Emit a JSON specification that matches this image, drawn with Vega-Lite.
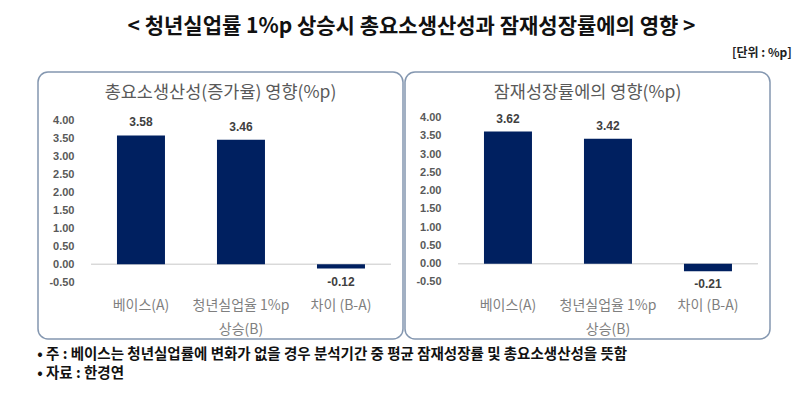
{
  "$schema": "https://vega.github.io/schema/vega-lite/v6.json",
  "padding": {"left": 37, "top": 16, "right": 5, "bottom": 0},
  "background": "white",
  "datasets": {
    "tfp": [
      {"category": "베이스(A)", "value": 3.58},
      {"category": "청년실업율 1%p 상승(B)", "value": 3.46},
      {"category": "차이 (B-A)", "value": -0.12}
    ],
    "pot": [
      {"category": "베이스(A)", "value": 3.62},
      {"category": "청년실업율 1%p 상승(B)", "value": 3.42},
      {"category": "차이 (B-A)", "value": -0.21}
    ]
  },
  "title": {
    "text": "< 청년실업률 1%p 상승시 총요소생산성과 잠재성장률에의 영향 >",
    "anchor": "middle",
    "fontSize": 21,
    "fontWeight": "bold",
    "color": "#111111",
    "offset": 10,
    "dx": -3
  },
  "vconcat": [
    {
      "title": {
        "text": ["• 주 : 베이스는 청년실업률에 변화가 없을 경우 분석기간 중 평균 잠재성장률 및 총요소생산성을 뜻함", "• 자료 : 한경연"],
        "orient": "bottom",
        "anchor": "start",
        "fontSize": 14.5,
        "fontWeight": "bold",
        "color": "#111111",
        "lineHeight": 19,
        "offset": 8
      },
      "vconcat": [
        {
          "title": {
            "text": "[단위 : %p]",
            "anchor": "end",
            "fontSize": 12,
            "fontWeight": "bold",
            "color": "#222222",
            "offset": 11,
            "dx": 21
          },
          "spacing": 0,
          "hconcat": [
            {
              "width": 365,
              "height": 267,
              "data": {"name": "tfp"},
              "transform": [{"calculate": "replace(format(datum.value, '.2f'), '−', '-')", "as": "label"}],
              "title": {"text": "총요소생산성(증가율) 영향(%p)", "offset": -29, "fontSize": 17.5, "fontWeight": "normal", "color": "#595959", "anchor": "middle"},
              "encoding": {
                "x": {
                  "field": "category", "type": "nominal",
                  "sort": ["베이스(A)", "청년실업율 1%p 상승(B)", "차이 (B-A)"],
                  "scale": {"paddingInner": 0.52, "paddingOuter": 0.585, "align": 0.675},
                  "axis": {"title": null, "offset": -41, "labelPadding": 0, "labelAngle": 0, "labelBaseline": "top", "labelLineHeight": 24, "labelFontSize": 14, "labelColor": "#7f7f7f", "domain": false, "ticks": false, "tickSize": 0,
                    "labelExpr": "datum.value == '청년실업율 1%p 상승(B)' ? ['청년실업율 1%p', '상승(B)'] : datum.label"}
                },
                "y": {
                  "field": "value", "type": "quantitative",
                  "scale": {"domain": [-2.075, 5.342], "nice": false, "zero": false},
                  "axis": {"title": null, "values": [-0.5, 0, 0.5, 1, 1.5, 2, 2.5, 3, 3.5, 4], "format": ".2f", "labelExpr": "replace(datum.label, '−', '-')", "offset": -36, "labelPadding": 0, "tickSize": 0, "ticks": false, "domain": false, "grid": false, "labelFontSize": 11, "labelFontWeight": "bold", "labelColor": "#595959", "labelFont": "Liberation Sans"}
                }
              },
              "layer": [
                {
                  "mark": {"type": "rule", "color": "#d9d9d9", "strokeWidth": 1},
                  "encoding": {
                    "x": {"datum": "베이스(A)", "type": "nominal", "bandPosition": -0.54},
                    "x2": {"datum": "차이 (B-A)", "bandPosition": 1.54},
                    "y": {"datum": 0, "type": "quantitative"}
                  }
                },
                {"mark": {"type": "bar", "color": "#002060"}},
                {
                  "transform": [{"filter": "datum.value >= 0"}],
                  "mark": {"type": "text", "baseline": "bottom", "dy": -6, "fontSize": 12, "fontWeight": "bold", "color": "#404040", "font": "Liberation Sans"},
                  "encoding": {"text": {"field": "label", "type": "nominal"}}
                },
                {
                  "transform": [{"filter": "datum.value < 0"}],
                  "mark": {"type": "text", "baseline": "top", "dy": 8, "fontSize": 12, "fontWeight": "bold", "color": "#404040", "font": "Liberation Sans"},
                  "encoding": {"text": {"field": "label", "type": "nominal"}}
                }
              ]
            },
            {
              "width": 365,
              "height": 267,
              "data": {"name": "pot"},
              "transform": [{"calculate": "replace(format(datum.value, '.2f'), '−', '-')", "as": "label"}],
              "title": {"text": "잠재성장률에의 영향(%p)", "offset": -29, "fontSize": 17.5, "fontWeight": "normal", "color": "#595959", "anchor": "middle"},
              "encoding": {
                "x": {
                  "field": "category", "type": "nominal",
                  "sort": ["베이스(A)", "청년실업율 1%p 상승(B)", "차이 (B-A)"],
                  "scale": {"paddingInner": 0.52, "paddingOuter": 0.585, "align": 0.675},
                  "axis": {"title": null, "offset": -41, "labelPadding": 0, "labelAngle": 0, "labelBaseline": "top", "labelLineHeight": 24, "labelFontSize": 14, "labelColor": "#7f7f7f", "domain": false, "ticks": false, "tickSize": 0,
                    "labelExpr": "datum.value == '청년실업율 1%p 상승(B)' ? ['청년실업율 1%p', '상승(B)'] : datum.label"}
                },
                "y": {
                  "field": "value", "type": "quantitative",
                  "scale": {"domain": [-2.063, 5.252], "nice": false, "zero": false},
                  "axis": {"title": null, "values": [-0.5, 0, 0.5, 1, 1.5, 2, 2.5, 3, 3.5, 4], "format": ".2f", "labelExpr": "replace(datum.label, '−', '-')", "offset": -36, "labelPadding": 0, "tickSize": 0, "ticks": false, "domain": false, "grid": false, "labelFontSize": 11, "labelFontWeight": "bold", "labelColor": "#595959", "labelFont": "Liberation Sans"}
                }
              },
              "layer": [
                {
                  "mark": {"type": "rule", "color": "#d9d9d9", "strokeWidth": 1},
                  "encoding": {
                    "x": {"datum": "베이스(A)", "type": "nominal", "bandPosition": -0.54},
                    "x2": {"datum": "차이 (B-A)", "bandPosition": 1.54},
                    "y": {"datum": 0, "type": "quantitative"}
                  }
                },
                {"mark": {"type": "bar", "color": "#002060"}},
                {
                  "transform": [{"filter": "datum.value >= 0"}],
                  "mark": {"type": "text", "baseline": "bottom", "dy": -6, "fontSize": 12, "fontWeight": "bold", "color": "#404040", "font": "Liberation Sans"},
                  "encoding": {"text": {"field": "label", "type": "nominal"}}
                },
                {
                  "transform": [{"filter": "datum.value < 0"}],
                  "mark": {"type": "text", "baseline": "top", "dy": 8, "fontSize": 12, "fontWeight": "bold", "color": "#404040", "font": "Liberation Sans"},
                  "encoding": {"text": {"field": "label", "type": "nominal"}}
                }
              ]
            }
          ]
        }
      ]
    }
  ],
  "config": {
    "font": "Noto Sans CJK KR",
    "view": {"stroke": "#8497b0", "strokeWidth": 1.5, "cornerRadius": 10},
    "title": {"font": "Noto Sans CJK KR"},
    "axis": {"labelFont": "Noto Sans CJK KR"}
  }
}
